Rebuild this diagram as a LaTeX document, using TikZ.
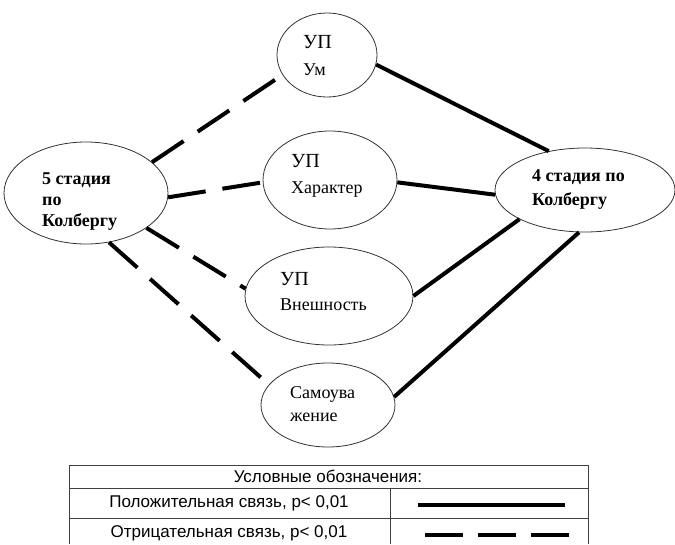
\documentclass[tikz,border=0pt]{standalone}
\usepackage{fontspec}
\setmainfont{Liberation Serif}
\newfontfamily\legendfont{Liberation Sans}
\usetikzlibrary{shapes.geometric}

\newcommand{\upmark}{{\fontsize{20}{26}\selectfont УП}}

\begin{document}
\begin{tikzpicture}[x=1pt,y=-1pt,
  factor/.style={ellipse,draw=black!80,line width=0.8pt,inner sep=0pt},
  label/.style={anchor=west,inner sep=0pt,align=left},
  poslink/.style={line width=4pt},
  neglink/.style={line width=4pt,dash pattern=on 38pt off 17pt},
  legend/.style={draw=black!75,line width=0.8pt},
  legtext/.style={font=\legendfont\fontsize{17}{19}\selectfont}]
\useasboundingbox (0,0) rectangle (675,544);

\node[factor,minimum width=164pt,minimum height=102pt] (five) at (86,193) {};
\node[factor,minimum width=180pt,minimum height=84pt] (four) at (585,190) {};
\node[factor,minimum width=100pt,minimum height=84pt] (um) at (327,55) {};
\node[factor,minimum width=134pt,minimum height=98pt] (har) at (330,180) {};
\node[factor,minimum width=168pt,minimum height=98pt] (vn) at (329,296) {};
\node[factor,minimum width=134pt,minimum height=84pt] (sam) at (328,405) {};

\node[label,font=\bfseries\fontsize{18}{21}\selectfont] (five-t) at (42,202) {5 стадия\\по\\Колбергу};
\node[label,font=\bfseries\fontsize{18}{24}\selectfont] (four-t) at (532,190) {4 стадия по\\Колбергу};
\node[label,font=\fontsize{18}{27}\selectfont] (um-t) at (303,56) {\upmark\\Ум};
\node[label,font=\fontsize{18}{26}\selectfont] (har-t) at (291,176) {\upmark\\Характер};
\node[label,font=\fontsize{18}{25}\selectfont] (vn-t) at (280,292) {\upmark\\Внешность};
\node[label,font=\fontsize{18}{23}\selectfont] (sam-t) at (290,404) {Самоува\\жение};

\draw[neglink] (five.25) -- (um.204);
\draw[neglink] (five.-3) -- (har.182);
\draw[neglink] (five.-30) -- (vn.175);
\draw[neglink] (five.-65) -- (sam.161);
\draw[poslink] (um.-11) -- (four.133);
\draw[poslink] (har.-2) -- (four.183);
\draw[poslink] (vn.0) -- (four.204);
\draw[poslink] (sam.7) -- (four.262);

% legend
\draw[legend] (69,544) -- (69,465) -- (588,465) -- (588,544);
\draw[legend] (69,488) -- (588,488);
\draw[legend] (69,518) -- (588,518);
\draw[legend] (390,488) -- (390,544);
\node[legtext] (lhead) at (328,476) {Условные обозначения:};
\node[legtext] (lpos) at (229,503) {Положительная связь, p< 0,01};
\node[legtext] (lneg) at (229,533) {Отрицательная связь, p< 0,01};
\coordinate (pa) at (418,505);
\coordinate (pb) at (565,505);
\coordinate (na) at (425,535);
\coordinate (nb) at (570,535);
\draw[poslink] (pa) -- (pb);
\draw[neglink,line width=4.5pt,dash pattern=on 38pt off 15pt] (na) -- (nb);
\end{tikzpicture}
\end{document}
